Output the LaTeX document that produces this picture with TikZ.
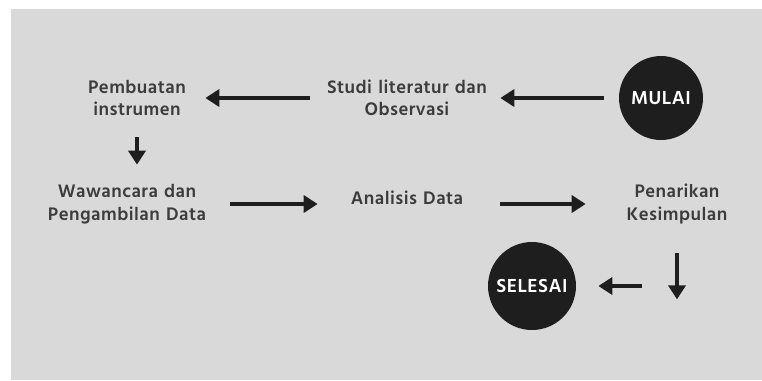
\documentclass[tikz,border=0pt]{standalone}
\usepackage{fontspec}
\setmainfont{Hind Siliguri}[LetterSpace=2.5]
\usepackage{xcolor}
\usepackage{tikz}
\usetikzlibrary{arrows.meta,positioning,calc}

\definecolor{bggray}{HTML}{D9D9D9}
\definecolor{txtgray}{HTML}{3C3C3C}
\definecolor{darkfill}{HTML}{1E1E1E}

\begin{document}
\begin{tikzpicture}[
    x=0.02cm, y=-0.02cm,
    label/.style={inner sep=0pt, align=center, font=\bfseries\fontsize{10.6}{12.8}\selectfont, text=txtgray, minimum height=1cm},
    terminal/.style={circle, fill=darkfill, inner sep=0pt, text=white, font=\bfseries\fontsize{11}{13}\selectfont},
    arrow/.style={-{Triangle[length=0.28cm, width=0.34cm]}, line width=0.07cm, draw=darkfill}
]

% Background
\useasboundingbox (0,0) rectangle (762,380);
\fill[bggray] (11,9) rectangle (762,380);

% Flow
\node[terminal, minimum size=1.68cm] (mulai) at (661,98) {MULAI};
\node[label, text width=3.2cm] (studi) at (407,98) {Studi literatur dan\\Observasi};
\node[label, text width=2cm] (pembuatan) at (137,98) {Pembuatan\\instrumen};
\node[label, text width=3.2cm] (wawancara) at (127,204) {Wawancara dan\\Pengambilan Data};
\node[label, text width=2.4cm] (analisis) at (407,198) {Analisis Data};
\node[label, text width=2.6cm] (penarikan) at (677,204) {Penarikan\\Kesimpulan};
\node[terminal, minimum size=1.76cm] (selesai) at (532,286) {SELESAI};

\draw[arrow, shorten <=0.3cm, shorten >=0.26cm] (mulai.west) -- (studi.east);
\draw[arrow, shorten <=0.34cm, shorten >=0.36cm] (studi.west) -- (pembuatan.east);
\draw[arrow, shorten <=0.28cm, shorten >=0.28cm] (pembuatan.south) -- (pembuatan.south |- wawancara.north);
\draw[arrow, shorten <=0.46cm, shorten >=0.58cm] (wawancara.east) -- (wawancara.east -| analisis.west);
\draw[arrow, shorten <=0.66cm, shorten >=0.52cm] (penarikan.west -| analisis.east) -- (penarikan.west);
\draw[arrow, shorten <=0.48cm, shorten >=0.62cm] (penarikan.south) -- (penarikan.south |- selesai.south);
\draw[arrow, shorten <=0.7cm, shorten >=0.44cm] (selesai.east -| penarikan.south) -- (selesai.east);

\end{tikzpicture}
\end{document}
